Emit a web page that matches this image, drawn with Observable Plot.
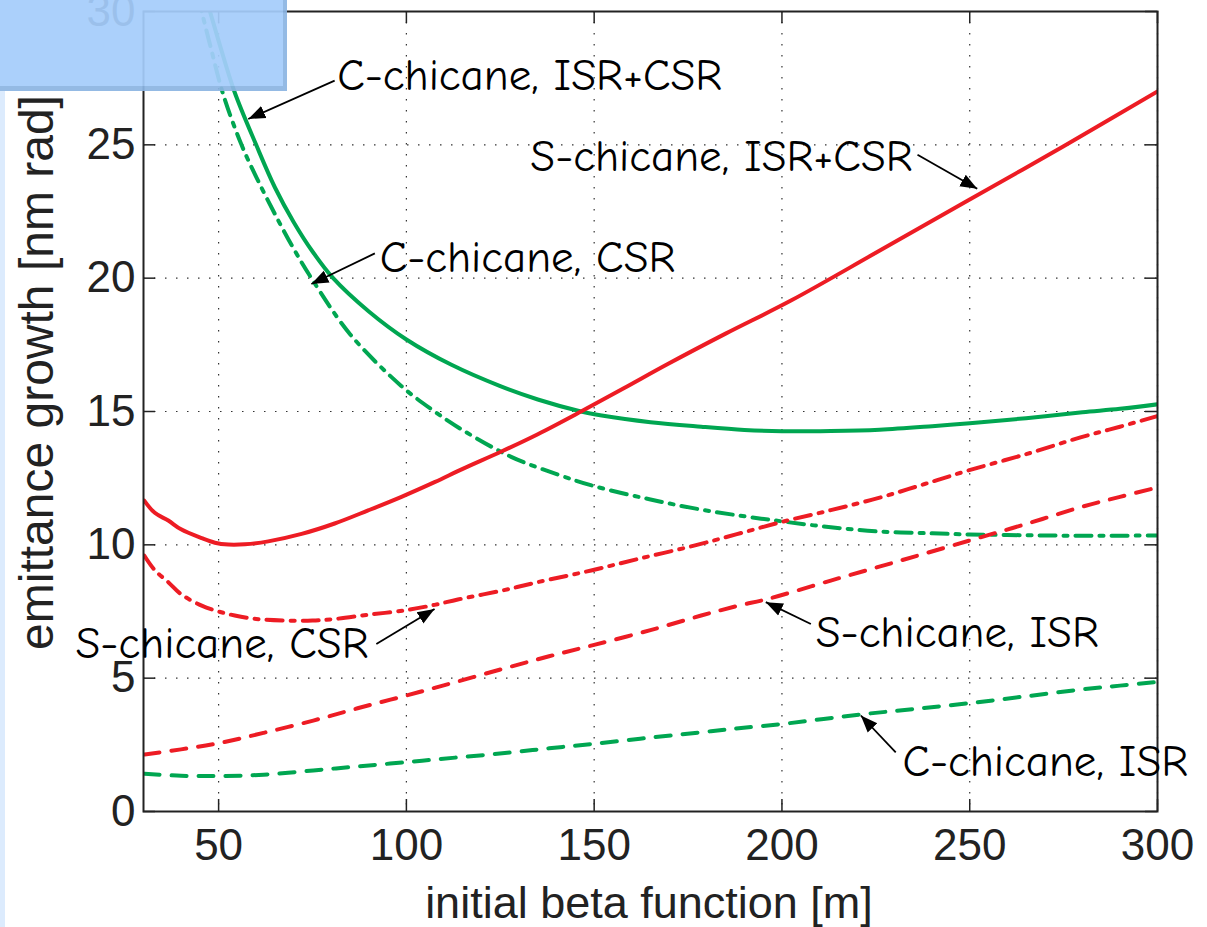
<!DOCTYPE html>
<html><head><meta charset="utf-8">
<script src="https://cdn.jsdelivr.net/npm/d3@7"></script>
<script src="https://cdn.jsdelivr.net/npm/@observablehq/plot@0.6"></script>
<style>
html,body{margin:0;padding:0;background:#fff;}
#wrap{position:relative;width:1207px;height:927px;overflow:hidden;}
#box{position:absolute;left:0;top:0;width:283px;height:86px;background:#a5cdfb;opacity:0.93;border-right:4px solid #8cb5e3;border-bottom:5px solid #8cb5e3;}
#strip{position:absolute;left:0;top:91px;width:5px;height:836px;background:#dcebfd;}
</style></head><body><div id="wrap"></div><script>
// ---- data ----
const xTicks = [50, 100, 150, 200, 250, 300];
const yTicks = [0, 5, 10, 15, 20, 25, 30];

const cIsrCsrX = [46.5, 47.7, 50, 54.2, 60, 65, 70, 75, 80.5, 90, 100, 112, 125, 135, 146.5, 152, 165, 178.5, 190, 200, 213, 226, 240, 250, 265, 280, 290, 300];
const cIsrCsrY = [30.6, 30, 28.9, 27, 25, 23.4, 22.1, 21.0, 20, 18.75, 17.7, 16.75, 15.95, 15.45, 15.0, 14.85, 14.6, 14.43, 14.31, 14.26, 14.27, 14.32, 14.45, 14.56, 14.75, 14.97, 15.1, 15.27];

const cCsrX = [44.5, 45.5, 48, 51.2, 56.1, 60, 65, 70, 74.7, 85, 98.7, 107.5, 115, 127.9, 140, 150, 165, 178.5, 190, 200, 213, 226, 240, 250, 265, 280, 300];
const cCsrY = [30.6, 30, 28.6, 26.9, 25, 23.8, 22.4, 21.1, 20, 17.9, 15.95, 15.0, 14.3, 13.3, 12.65, 12.2, 11.7, 11.32, 11.07, 10.88, 10.66, 10.5, 10.43, 10.39, 10.36, 10.34, 10.35];

const cIsrX = [30.3, 40, 50, 62, 75.2, 87, 100, 113, 126.2, 138, 150, 165, 181.1, 188.5, 200, 221, 235, 249.8, 265, 280, 290, 300];
const cIsrY = [1.42, 1.34, 1.33, 1.38, 1.54, 1.69, 1.85, 2.02, 2.19, 2.37, 2.54, 2.77, 3.01, 3.12, 3.28, 3.64, 3.84, 4.06, 4.32, 4.58, 4.72, 4.86];

const sIsrCsrX = [30.2, 33, 36.6, 40, 45.5, 49, 52.6, 57, 63.2, 72.1, 80.9, 89.8, 98.7, 107.5, 115, 125.3, 135, 146.5, 158, 169.6, 185, 202.4, 225, 249.4, 275, 300];
const sIsrCsrY = [11.66, 11.2, 10.91, 10.58, 10.25, 10.08, 10.01, 10.02, 10.13, 10.41, 10.8, 11.29, 11.8, 12.35, 12.85, 13.5, 14.15, 15.0, 15.88, 16.78, 17.92, 19.16, 20.95, 22.9, 24.95, 27.0];

const sCsrX = [30.2, 33, 36.6, 40, 45.5, 50, 54.3, 60, 67.6, 75, 81, 90, 100, 107.5, 113.7, 125.3, 135, 149.2, 162, 176.6, 188, 199.7, 213, 226.3, 238, 249.9, 265, 279.5, 290, 300];
const sCsrY = [9.6, 9.05, 8.6, 8.15, 7.72, 7.5, 7.35, 7.22, 7.16, 7.16, 7.22, 7.38, 7.55, 7.75, 7.95, 8.28, 8.6, 9.04, 9.48, 9.97, 10.4, 10.85, 11.3, 11.78, 12.28, 12.8, 13.4, 14.03, 14.43, 14.83];

const sIsrX = [30.3, 40, 50, 62, 75.2, 87, 100, 113, 126.2, 138, 150, 165, 178.5, 188.5, 196.2, 213, 231.6, 249.9, 265, 279.5, 290, 300];
const sIsrY = [2.14, 2.33, 2.56, 2.95, 3.41, 3.87, 4.35, 4.85, 5.37, 5.82, 6.25, 6.8, 7.35, 7.72, 7.97, 8.66, 9.41, 10.16, 10.78, 11.41, 11.8, 12.15];

const seriesNames = ["C-chicane, ISR+CSR", "C-chicane, CSR", "C-chicane, ISR", "S-chicane, ISR+CSR", "S-chicane, CSR", "S-chicane, ISR"];
const seriesX = [cIsrCsrX, cCsrX, cIsrX, sIsrCsrX, sCsrX, sIsrX];
const seriesY = [cIsrCsrY, cCsrY, cIsrY, sIsrCsrY, sCsrY, sIsrY];

// annotations: label text position and arrow tail / tip in data units
const annText  = ["C-chicane, ISR+CSR", "C-chicane, CSR", "S-chicane, ISR+CSR", "S-chicane, CSR", "S-chicane, ISR", "C-chicane, ISR"];
const annX     = [81.6, 92.9, 234.8, 89.9, 209.0, 232.1];
const annY     = [27.6, 20.77, 24.56, 6.3, 6.71, 1.87];
const annEnd   = [false, false, true, true, false, false];
const tailX    = [80.9, 91.6, 236.1, 92.0, 207.7, 230.3];
const tailY    = [27.41, 20.93, 24.63, 6.28, 7.03, 2.22];
const tipX     = [57.9, 74.7, 252.0, 107.5, 195.7, 221.0];
const tipY     = [25.97, 19.78, 23.35, 7.59, 7.85, 3.6];

// ---- styles ----
const green = "#00a651", red = "#ed1c24";
const styleOf = {
  "C-chicane, ISR+CSR": {stroke: green},
  "C-chicane, CSR": {stroke: green, strokeDasharray: "16,8,4,8"},
  "C-chicane, ISR": {stroke: green, strokeDasharray: "15,12"},
  "S-chicane, ISR+CSR": {stroke: red},
  "S-chicane, CSR": {stroke: red, strokeDasharray: "16,8,4,8"},
  "S-chicane, ISR": {stroke: red, strokeDasharray: "15,12"}
};

const lineMarks = seriesNames.map((name, i) =>
  Plot.line(d3.zip(seriesX[i], seriesY[i]), {
    x: d => d[0], y: d => d[1], strokeWidth: 4, clip: true, curve: "catmull-rom",
    strokeLinejoin: "round", ...styleOf[name]
  })
);

const ann = annText.map((t, i) => ({t, x: annX[i], y: annY[i], end: annEnd[i],
  x1: tailX[i], y1: tailY[i], x2: tipX[i], y2: tipY[i]}));

const annFont = "'Comic Sans MS', 'Comic Neue', 'Open Sans', sans-serif";
const annSize = 45;

const grid = {stroke: "#333", strokeWidth: 1.2, strokeDasharray: "1.5,9.5"};

const chart = Plot.plot({
  width: 1207, height: 927,
  marginLeft: 143, marginRight: 50, marginTop: 11, marginBottom: 116,
  style: {fontFamily: "'Liberation Sans', Arial, sans-serif", fontSize: "44px", color: "#222", background: "transparent", overflow: "visible"},
  x: {domain: [30, 300], ticks: xTicks, tickSize: 0, tickPadding: 17, label: null},
  y: {domain: [0, 30], ticks: yTicks, tickSize: 0, tickPadding: 8, label: null},
  marks: [
    Plot.ruleX(xTicks, grid),
    Plot.ruleY(yTicks, grid),
    ...lineMarks,
    Plot.frame({stroke: "#222", strokeWidth: 2}),
    Plot.tickX(xTicks, {x: d => d, stroke: "#222", strokeWidth: 1.5, insetTop: 788}),
    Plot.tickX(xTicks, {x: d => d, stroke: "#222", strokeWidth: 1.5, insetBottom: 788}),
    Plot.tickY(yTicks, {y: d => d, stroke: "#222", strokeWidth: 1.5, insetRight: 1002}),
    Plot.tickY(yTicks, {y: d => d, stroke: "#222", strokeWidth: 1.5, insetLeft: 1002}),
    Plot.link(ann, {x1: "x1", y1: "y1", x2: "x2", y2: "y2", stroke: "#000", strokeWidth: 1.8, markerEnd: "arrow"}),
    Plot.text(ann.filter(d => !d.end), {x: "x", y: "y", text: "t", textAnchor: "start", lineAnchor: "middle", fontSize: annSize, fontFamily: annFont, fill: "#000"}),
    Plot.text(ann.filter(d => d.end), {x: "x", y: "y", text: "t", textAnchor: "end", lineAnchor: "middle", fontSize: annSize, fontFamily: annFont, fill: "#000"}),
    Plot.text(["initial beta function [m]"], {frameAnchor: "bottom", textAnchor: "middle", lineAnchor: "middle", dy: 92, dx: -1.5, text: d => d, fontSize: 45, fill: "#222"}),
    Plot.text(["emittance growth [nm rad]"], {frameAnchor: "left", textAnchor: "middle", lineAnchor: "middle", dx: -106, dy: -39, rotate: -90, text: d => d, fontSize: 48, fill: "#222"})
  ]
});

// clean up any d3-axis default font attributes so the svg style applies
chart.querySelectorAll("[font-size='10']").forEach(e => e.removeAttribute("font-size"));
chart.querySelectorAll("[font-family='sans-serif']").forEach(e => e.removeAttribute("font-family"));

// filled triangular arrowheads
chart.querySelectorAll("marker").forEach(m => {
  m.setAttribute("viewBox", "-10 -5 10 10");
  m.setAttribute("refX", "0");
  m.setAttribute("refY", "0");
  m.setAttribute("markerUnits", "userSpaceOnUse");
  m.setAttribute("markerWidth", "17");
  m.setAttribute("markerHeight", "17");
  m.setAttribute("fill", "#000");
  m.setAttribute("stroke", "none");
  m.innerHTML = "";
  const p = document.createElementNS("http://www.w3.org/2000/svg", "path");
  p.setAttribute("d", "M-10,-3.9L0,0L-10,3.9Z");
  p.setAttribute("fill", "#000");
  p.setAttribute("stroke", "none");
  m.appendChild(p);
});

const wrap = document.getElementById("wrap");
wrap.appendChild(chart);
const box = document.createElement("div"); box.id = "box"; wrap.appendChild(box);
const strip = document.createElement("div"); strip.id = "strip"; wrap.appendChild(strip);
</script></body></html>
